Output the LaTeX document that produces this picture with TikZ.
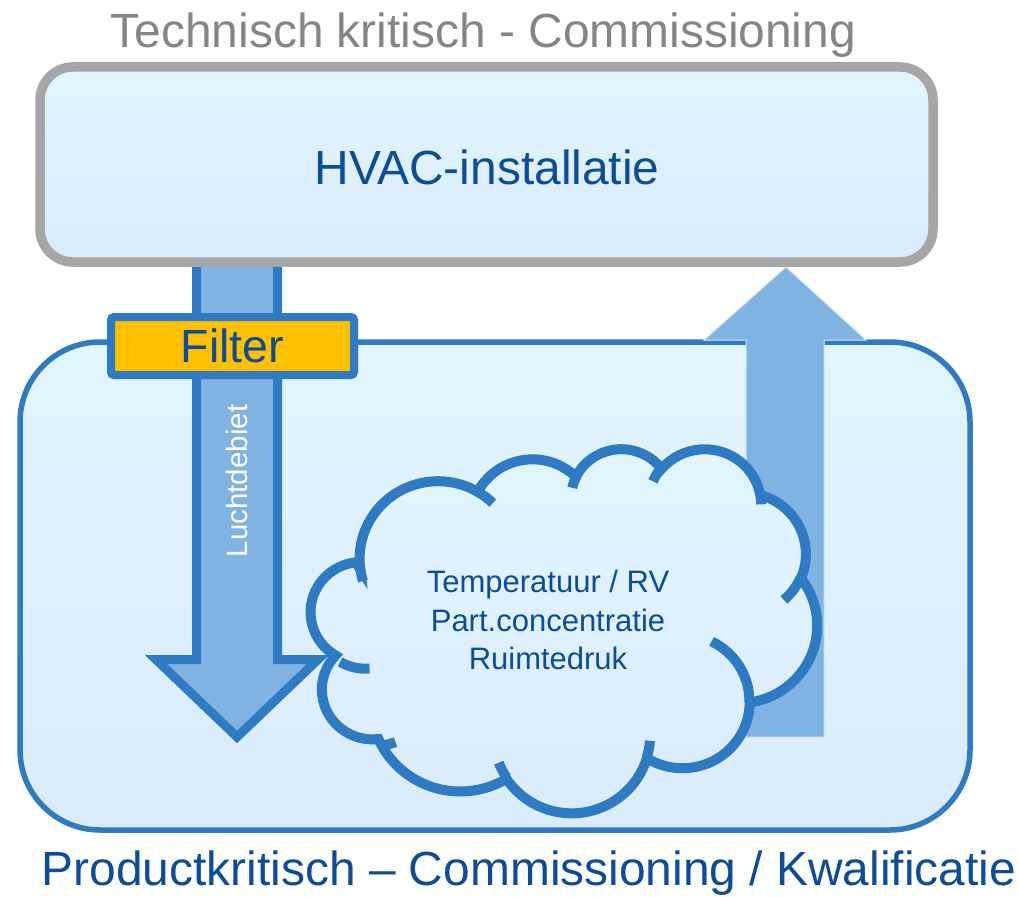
\documentclass[tikz,border=0pt]{standalone}
\usepackage{fontspec}
\setmainfont{Liberation Sans}
\definecolor{boxblue}{RGB}{46,123,196}
\definecolor{arrowfill}{RGB}{128,179,225}
\definecolor{txtblue}{RGB}{13,75,155}
\definecolor{titlegray}{RGB}{133,133,133}
\definecolor{filltop}{RGB}{225,245,254}
\definecolor{fillbot}{RGB}{218,235,250}
\definecolor{graybox}{RGB}{166,166,166}
\definecolor{filterorange}{RGB}{255,192,0}
\begin{document}
\begin{tikzpicture}[x=1pt,y=-1pt,
  lowerbox/.style={draw=boxblue, line width=5.5pt, rounded corners=80pt, top color=filltop, bottom color=fillbot},
  topbox/.style={draw=graybox, line width=9.5pt, rounded corners=33pt, top color=filltop, bottom color=fillbot},
  downarrow/.style={draw=boxblue, fill=arrowfill, line width=9pt},
  uparrow/.style={fill=arrowfill, draw={rgb,255:red,214;green,232;blue,248}, line width=1pt},
  filterbox/.style={draw=boxblue, fill=filterorange, line width=8pt, rounded corners=3pt, minimum width=243pt, minimum height=58pt, inner sep=0pt, text=txtblue, font=\fontsize{46.5}{55}\selectfont},
  cloudshape/.style={draw=boxblue, line width=10pt, top color=filltop, bottom color=fillbot},
  cloudline/.style={draw=boxblue, line width=10pt},
  bigtext/.style={inner sep=0pt, font=\fontsize{47.9}{57}\selectfont}
]
\useasboundingbox (0,0) rectangle (1019,896);
% lower box
\draw[lowerbox] (20,342) rectangle (970,830);
% down arrow
\draw[downarrow] (196.5,250) -- (277.5,250) -- (277.5,659.5) -- (318,659.5) -- (237,737) -- (156,659.5) -- (196.5,659.5) -- cycle;
% top box
\draw[topbox] (40,67) rectangle (933,262);
% up arrow
\draw[uparrow] (746,737) -- (824,737) -- (824,340) -- (866,340) -- (786,267) -- (704,340) -- (746,340) -- cycle;
% filter
\node[filterbox] (filter) at (232.5,346) {Filter};
% Luchtdebiet
\node[rotate=90, anchor=base, inner sep=0pt, text=white, font=\fontsize{29.5}{35}\selectfont] (lucht) at (247.5,481) {Luchtdebiet};
% cloud
\begin{scope}[shift={(315,448)}, x=1.16204pt, y=-0.84259pt]
\path[cloudshape] (39.00,143.70)
 arc[start angle=-187.745, end angle=-59.643, x radius=67.53, y radius=91.90]
 arc[start angle=-152.024, end angle=-45.453, x radius=53.33, y radius=72.67]
 arc[start angle=-153.4885, end angle=-37.327, x radius=43.65, y radius=59.45]
 arc[start angle=-139.715, end angle=-10.211, x radius=48.57, y radius=65.95]
 arc[start angle=-74.767, end angle=23.205, x radius=53.33, y radius=72.73]
 arc[start angle=-37.525, end angle=81.862, x radius=67.75, y radius=92.20]
 arc[start angle=0.4596, end angle=121.977, x radius=57.85, y radius=78.67]
 arc[start angle=16.845, end angle=146.2385, x radius=67.52, y radius=92.15]
 arc[start angle=58.989, end angle=155.848, x radius=77.20, y radius=105.43]
 arc[start angle=-276.694, end angle=-136.893, x radius=43.60, y radius=59.18]
 arc[start angle=-239.647, end angle=-95.887, x radius=43.45, y radius=59.45]
 -- cycle;
\path[cloudline] (46.93,261.77) arc[start angle=85.547, end angle=120.353, x radius=43.45, y radius=59.45];
\path[cloudline] (69.28,348.99) arc[start angle=68.238, end angle=83.306, x radius=43.60, y radius=59.18];
\path[cloudline] (164.78,390.90) arc[start angle=146.2385, end angle=158.474, x radius=67.52, y radius=92.15];
\path[cloudline] (288.27,347.51) arc[start angle=4.738, end angle=16.845, x radius=67.52, y radius=92.15];
\path[cloudline] (341.29,229.54) arc[start angle=-64.028, end angle=0.4596, x radius=57.85, y radius=78.67];
\path[cloudline] (417.98,153.54) arc[start angle=23.205, end angle=49.638, x radius=53.33, y radius=72.73];
\path[cloudline] (383.24,54.26) arc[start angle=-10.211, end angle=0.821, x radius=48.57, y radius=65.95];
\path[cloudline] (290.78,39.52) arc[start angle=-156.282, end angle=-139.715, x radius=48.57, y radius=65.95];
\path[cloudline] (221.41,47.20) arc[start angle=-167.725, end angle=-153.4885, x radius=43.65, y radius=59.45];
\path[cloudline] (140.00,51.92) arc[start angle=-59.643, end angle=-45.729, x radius=67.53, y radius=91.90];
\path[cloudline] (41.27,157.89) arc[start angle=163.193, end angle=172.255, x radius=67.53, y radius=91.90];
\end{scope}
% cloud text
\node[align=center, inner sep=0pt, text=txtblue, font=\fontsize{31}{38.5}\selectfont] (cloudtext) at (548,620) {Temperatuur / RV\\Part.concentratie\\Ruimtedruk};
% HVAC
\node[bigtext, text=txtblue] (hvac) at (487,167) {HVAC-installatie};
% titles
\node[bigtext, text=titlegray, anchor=base west] (toptitle) at (110.5,48) {Technisch kritisch - Commissioning};
\node[bigtext, text=txtblue, anchor=base west] (bottomtitle) at (41.5,885) {Productkritisch – Commissioning / Kwalificatie};
\end{tikzpicture}
\end{document}
